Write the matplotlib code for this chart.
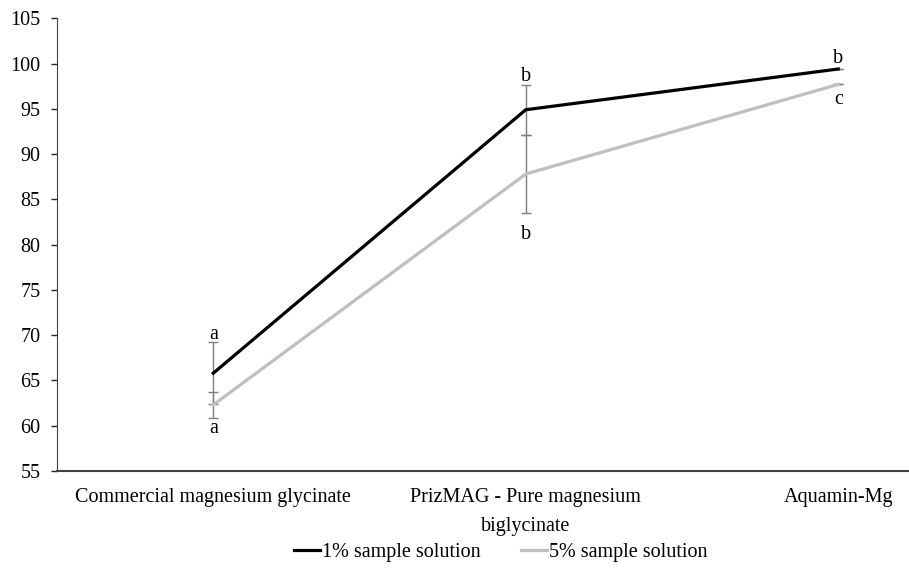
import numpy as np
import matplotlib.pyplot as plt

plt.rcParams['font.family'] = ['Liberation Serif', 'DejaVu Serif']

categories = ["Commercial magnesium glycinate", "PrizMAG - Pure magnesium\nbiglycinate", "Aquamin-Mg"]
sol_1pct = [65.8, 94.9, 99.4]
sol_1pct_err = [3.4, 2.75, 0.0]
sol_5pct = [62.3, 87.8, 97.7]
sol_5pct_err = [1.4, 4.3, 0.0]
letters_top = ["a", "b", "b"]
letters_bottom = ["a", "b", "c"]

# label nudges in points (placement only)
top_nudge = [-1.2, -1, 1]
bottom_nudge = [-1, -9, -4]

W, H = 909, 568
fig = plt.figure(figsize=(W / 100, H / 100), dpi=100)
ax = fig.add_axes([57 / W, 1 - 471 / H, 1 - 57 / W, (471 - 18.3) / H])

x = np.arange(len(categories))
fs = 14.5

# error bars first so the lines sit on top
ax.errorbar(x, sol_1pct, yerr=sol_1pct_err, fmt='none', ecolor='#7f7f7f',
            elinewidth=1, capsize=3.5, capthick=1, zorder=2)
ax.errorbar(x, sol_5pct, yerr=sol_5pct_err, fmt='none', ecolor='#7f7f7f',
            elinewidth=1, capsize=3.5, capthick=1, zorder=2)

l1, = ax.plot(x, sol_1pct, color='black', lw=2.3, label='1% sample solution', zorder=3)
l2, = ax.plot(x, sol_5pct, color='#bfbfbf', lw=2.3, label='5% sample solution', zorder=3)

# significance letters
for i in range(len(x)):
    top = sol_1pct[i] + sol_1pct_err[i]
    bot = sol_5pct[i] - sol_5pct_err[i]
    ax.annotate(letters_top[i], (x[i], top), xytext=(0, top_nudge[i]), textcoords='offset points',
                ha='center', va='bottom', fontsize=fs)
    ax.annotate(letters_bottom[i], (x[i], bot), xytext=(0, bottom_nudge[i]), textcoords='offset points',
                ha='center', va='top', fontsize=fs)

ax.set_xlim(-0.5, -0.5 + (W - 57) / 312.5)
ax.set_ylim(55, 105)
ax.set_yticks(np.arange(55, 106, 5))
ax.set_xticks(x)
ax.set_xticklabels(categories, fontsize=fs, linespacing=1.75)
ax.tick_params(axis='x', length=0, pad=12)
ax.tick_params(axis='y', direction='out', length=4, width=1, labelsize=fs, pad=8, colors='#262626')
for lab in ax.get_yticklabels():
    lab.set_color('black')

for s in ['top', 'right']:
    ax.spines[s].set_visible(False)
ax.spines['left'].set_color('#404040')
ax.spines['bottom'].set_color('#404040')
ax.spines['bottom'].set_linewidth(1.5)

fig.legend(handles=[l1, l2], loc='center', bbox_to_anchor=(501 / W, 1 - 552 / H), ncol=2,
           frameon=False, fontsize=fs, handlelength=1.3, handletextpad=0.1, columnspacing=2.0)

fig.savefig('out.png', dpi=100)
